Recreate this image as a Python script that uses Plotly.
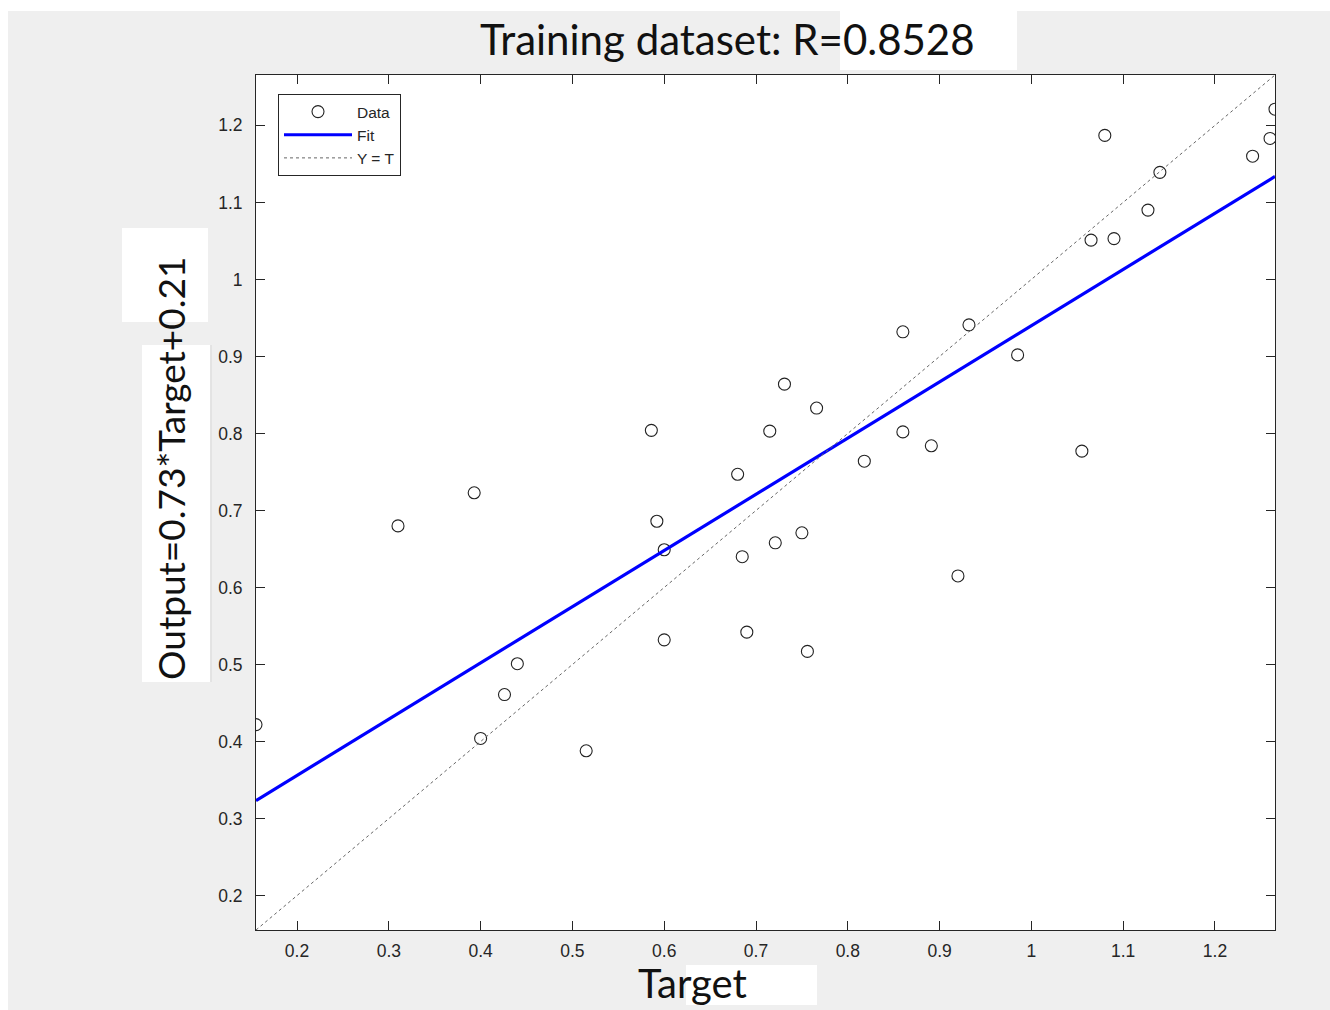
import plotly.graph_objects as go

# ---- data ----
target = [0.1553, 0.310, 0.393, 0.400, 0.426, 0.440, 0.515, 0.586, 0.592, 0.600,
          0.600, 0.680, 0.685, 0.690, 0.715, 0.721, 0.731, 0.750, 0.756, 0.766,
          0.818, 0.860, 0.860, 0.891, 0.920, 0.932, 0.985, 1.055, 1.065, 1.080,
          1.090, 1.127, 1.140, 1.241, 1.260, 1.2654]
output = [0.422, 0.680, 0.723, 0.404, 0.461, 0.501, 0.388, 0.804, 0.686, 0.649,
          0.532, 0.747, 0.640, 0.542, 0.803, 0.658, 0.864, 0.671, 0.517, 0.833,
          0.764, 0.932, 0.802, 0.784, 0.615, 0.941, 0.902, 0.777, 1.051, 1.187,
          1.053, 1.090, 1.139, 1.160, 1.183, 1.221]
fit_x = [0.1553, 1.2654]
fit_y = [0.3234, 1.1337]
ident_x = [0.1553, 1.2654]
ident_y = [0.1553, 1.2654]
axis_range = [0.1553, 1.2654]
tick_vals = [0.2, 0.3, 0.4, 0.5, 0.6, 0.7, 0.8, 0.9, 1.0, 1.1, 1.2]
tick_text = ["0.2", "0.3", "0.4", "0.5", "0.6", "0.7", "0.8", "0.9", "1", "1.1", "1.2"]
title_text = "Training dataset: R=0.8528"
xlabel = "Target"
ylabel = "Output=0.73*Target+0.21"

# ---- layout geometry (pixels) ----
W, H = 1330, 1010
L, R, T, B = 256, 1275, 75, 930
PW, PH = R - L, B - T


def px(x):
    return (x - L) / PW


def py(y):
    return (B - y) / PH


fig = go.Figure()
fig.add_trace(go.Scatter(x=target, y=output, mode="markers", name="Data",
                         marker=dict(symbol="circle-open", size=12,
                                     line=dict(color="#222222", width=1.1),
                                     color="#222222")))
fig.add_trace(go.Scatter(x=fit_x, y=fit_y, mode="lines", name="Fit",
                         line=dict(color="#0000ff", width=3.2)))
fig.add_trace(go.Scatter(x=ident_x, y=ident_y, mode="lines", name="Y = T",
                         line=dict(color="#666666", width=1, dash="dot")))

axis_common = dict(range=axis_range, tickvals=tick_vals, ticktext=tick_text,
                   ticks="inside", ticklen=9, tickcolor="#262626", tickwidth=1,
                   showline=True, linecolor="#262626", linewidth=1,
                   mirror="ticks", showgrid=False, zeroline=False,
                   tickfont=dict(family="Liberation Sans, Arial", size=17.5,
                                 color="#262626"))

shapes = [
    dict(type="rect", xref="paper", yref="paper", layer="below",
         x0=px(8), x1=px(1330), y0=py(11), y1=py(1010),
         fillcolor="#efefef", line=dict(width=0)),
    dict(type="rect", xref="paper", yref="paper", layer="below",
         x0=0, x1=1, y0=0, y1=1, fillcolor="white", line=dict(width=0)),
    dict(type="rect", xref="paper", yref="paper", layer="below",
         x0=px(840), x1=px(1017), y0=py(11), y1=py(70),
         fillcolor="white", line=dict(width=0)),
    dict(type="rect", xref="paper", yref="paper", layer="below",
         x0=px(686), x1=px(817), y0=py(965), y1=py(1005),
         fillcolor="white", line=dict(width=0)),
    dict(type="rect", xref="paper", yref="paper", layer="below",
         x0=px(122), x1=px(208), y0=py(228), y1=py(322),
         fillcolor="white", line=dict(width=0)),
    dict(type="rect", xref="paper", yref="paper", layer="below",
         x0=px(142), x1=px(210), y0=py(345), y1=py(682),
         fillcolor="white", line=dict(width=0)),
    dict(type="line", xref="paper", yref="paper", layer="below",
         x0=px(211), x1=px(211), y0=py(345), y1=py(682),
         line=dict(color="#d8d8d8", width=1)),
]

annotations = [
    dict(text=title_text, xref="paper", yref="paper", x=px(727), y=py(39),
         xanchor="center", yanchor="middle", showarrow=False,
         font=dict(family="Lato, Open Sans, sans-serif", size=42, color="#111111")),
    dict(text=xlabel, xref="paper", yref="paper", x=px(692), y=py(983),
         xanchor="center", yanchor="middle", showarrow=False,
         font=dict(family="Lato, Open Sans, sans-serif", size=40, color="#111111")),
    dict(text=ylabel, xref="paper", yref="paper", x=px(171), y=py(469),
         xanchor="center", yanchor="middle", showarrow=False, textangle=-90,
         font=dict(family="Lato, Open Sans, sans-serif", size=37, color="#111111")),
]

xaxis = dict(axis_common, ticklabelstandoff=5)
yaxis = dict(axis_common, ticklabelstandoff=9)

fig.update_layout(
    width=W, height=H,
    margin=dict(l=L, r=W - R, t=T, b=H - B, pad=0),
    paper_bgcolor="white", plot_bgcolor="white",
    xaxis=xaxis, yaxis=yaxis,
    shapes=shapes, annotations=annotations,
    showlegend=True,
    legend=dict(x=px(278), y=py(94), xanchor="left", yanchor="top",
                bgcolor="white", bordercolor="#262626", borderwidth=1,
                font=dict(family="Liberation Sans, Arial", size=15.5,
                          color="#262626"),
                tracegroupgap=0, itemwidth=68),
)

fig.write_html("out.html")
